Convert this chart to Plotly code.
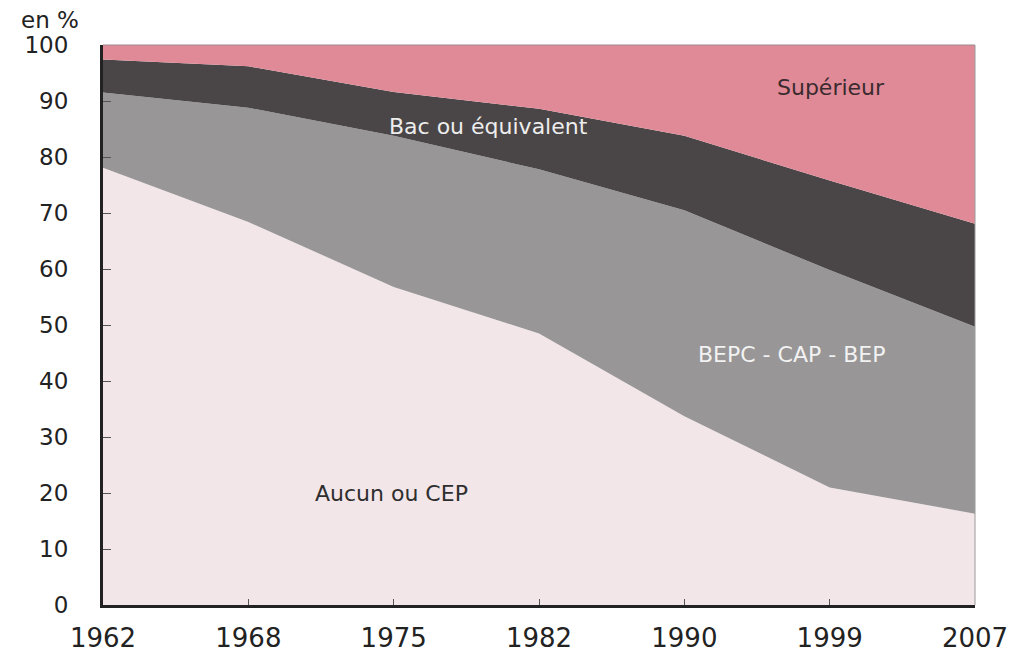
import plotly.graph_objects as go

years = ["1962", "1968", "1975", "1982", "1990", "1999", "2007"]
aucun_cep = [78.1, 68.4, 56.8, 48.5, 33.7, 21.0, 16.3]
bepc_cap_bep = [13.4, 20.4, 27.0, 29.3, 36.8, 38.8, 33.4]
bac = [5.9, 7.4, 7.8, 10.8, 13.3, 16.0, 18.4]
superieur = [2.6, 3.8, 8.4, 11.4, 16.2, 24.2, 31.9]

series = [
    ("Aucun ou CEP", aucun_cep, "#F2E6E9"),
    ("BEPC - CAP - BEP", bepc_cap_bep, "#989696"),
    ("Bac ou équivalent", bac, "#4A4546"),
    ("Supérieur", superieur, "#E08A98"),
]

FONT = "DejaVu Sans, Liberation Sans, Arial, sans-serif"

fig = go.Figure()
for name, vals, col in series:
    fig.add_trace(go.Scatter(
        x=years, y=vals, name=name, mode="lines",
        stackgroup="one", line=dict(width=0, color=col),
        fillcolor=col, showlegend=False, hoverinfo="skip",
    ))

labels = [
    ("Supérieur", 0.835, 92.4, "#3A2A2E"),
    ("Bac ou équivalent", 0.442, 85.4, "#EDEDED"),
    ("BEPC - CAP - BEP", 0.790, 44.7, "#F2F2F2"),
    ("Aucun ou CEP", 0.331, 20.0, "#2E2E2E"),
]
for text, px, py, col in labels:
    fig.add_annotation(x=px, xref="paper", y=py, yref="y", text=text,
                       showarrow=False, xanchor="center", yanchor="middle",
                       font=dict(size=22, color=col, family=FONT))

fig.add_annotation(x=-0.096, xref="paper", y=1.045, yref="paper", text="en %",
                   showarrow=False, xanchor="left", yanchor="middle",
                   font=dict(size=23, color="#222", family=FONT))

# thin frame on top and right edges of the plotting area
fig.add_shape(type="line", xref="paper", yref="paper", x0=0, x1=1, y0=1, y1=1,
              line=dict(color="#9A8A8E", width=1))
fig.add_shape(type="line", xref="paper", yref="paper", x0=1, x1=1, y0=0, y1=1,
              line=dict(color="#9A9A9A", width=1))

fig.update_xaxes(type="category", range=[0, 6], showgrid=False, zeroline=False,
                 showline=True, linecolor="#222", linewidth=3,
                 ticks="inside", ticklen=6, tickcolor="#555", tickwidth=1,
                 tickfont=dict(size=26, color="#222", family=FONT),
                 ticklabelstandoff=8)
fig.update_yaxes(range=[0, 100], dtick=10, showgrid=False, zeroline=False,
                 showline=True, linecolor="#222", linewidth=3,
                 ticks="inside", ticklen=8, tickcolor="#555", tickwidth=1,
                 tickfont=dict(size=23, color="#222", family=FONT),
                 ticklabelstandoff=27)

fig.update_layout(
    width=1020, height=665,
    margin=dict(l=103, r=33, t=45, b=55),
    paper_bgcolor="white", plot_bgcolor="white",
    font=dict(family=FONT),
)

fig.write_html("out.html",
               config={"displayModeBar": False},
               post_script="document.body.style.margin='0';document.body.style.overflow='hidden';")
